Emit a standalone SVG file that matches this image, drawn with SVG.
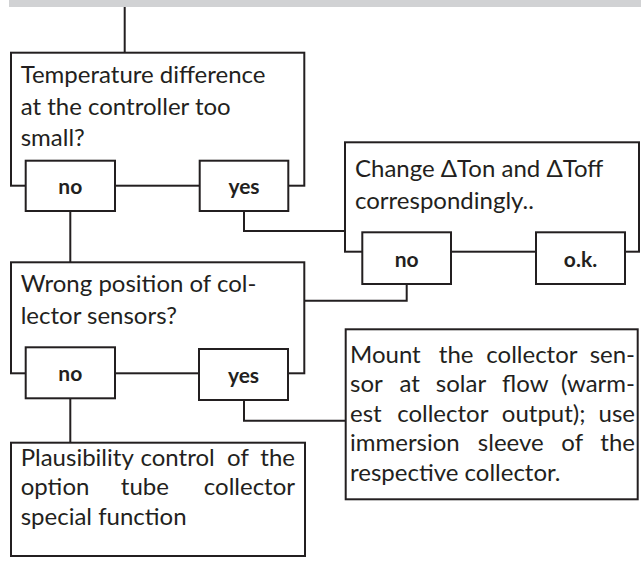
<svg xmlns="http://www.w3.org/2000/svg" width="644" height="561" viewBox="0 0 644 561">
<style>
.box{fill:#ffffff;stroke:#231f20;stroke-width:2}
.ln{fill:none;stroke:#231f20;stroke-width:2}
.t{font-family:Lato,"Liberation Sans",sans-serif;font-size:24px;fill:#231f20}
.l{font-family:Lato,"Liberation Sans",sans-serif;font-size:21px;font-weight:bold;fill:#231f20;text-anchor:middle}
.m{text-anchor:middle}
.e{text-anchor:end}
</style>
<rect x="9" y="0" width="632" height="7" fill="#d1d2d4"/>
<g id="connectors">
<path class="ln" d="M124.7,7 V52.7"/>
<path class="ln" d="M70.3,211 V262.3"/>
<path class="ln" d="M244,211 V231 H345"/>
<path class="ln" d="M406.7,284 V300.7 H304.3"/>
<path class="ln" d="M70.3,398.3 V442.7"/>
<path class="ln" d="M244,400 V420.7 H345.7"/>
</g>
<g id="q1">
<rect class="box" x="11" y="52.7" width="293.3" height="133"/>
<text class="t" x="20.7" y="83">Temperature difference</text>
<text class="t" x="20.7" y="114.5">at the controller too</text>
<text class="t" x="20.7" y="146">small?</text>
</g>
<g id="q1-no">
<rect class="box" x="25.7" y="160.7" width="89.3" height="50.3"/>
<text class="l" x="70.3" y="193.5">no</text>
</g>
<g id="q1-yes">
<rect class="box" x="199.7" y="160.7" width="88.6" height="50.3"/>
<text class="l" x="244" y="193.5">yes</text>
</g>
<g id="a1">
<rect class="box" x="345" y="142.3" width="294" height="109.4"/>
<text class="t" x="355" y="177.3">Change ΔTon and ΔToff</text>
<text class="t" x="355" y="209.3">correspondingly..</text>
</g>
<g id="a1-no">
<rect class="box" x="362.3" y="232.3" width="88.7" height="51.7"/>
<text class="l" x="406.7" y="266.5">no</text>
</g>
<g id="a1-ok">
<rect class="box" x="536" y="232.3" width="89" height="51.7"/>
<text class="l" x="580.5" y="266.5">o.k.</text>
</g>
<g id="q2">
<rect class="box" x="11" y="262.3" width="293.3" height="111"/>
<text class="t" x="20.7" y="291.7">Wrong position of col-</text>
<text class="t" x="20.7" y="324">lector sensors?</text>
</g>
<g id="q2-no">
<rect class="box" x="25.7" y="347.3" width="89.3" height="51"/>
<text class="l" x="70.3" y="381">no</text>
</g>
<g id="q2-yes">
<rect class="box" x="199" y="349" width="89" height="51"/>
<text class="l" x="243.5" y="383">yes</text>
</g>
<g id="a2">
<rect class="box" x="345.7" y="329.3" width="292" height="170"/>
<text class="t" y="362.7"><tspan x="350">Mount</tspan><tspan class="m" x="456.2">the</tspan><tspan class="m" x="531.9">collector</tspan><tspan class="e" x="635">sen-</tspan></text>
<text class="t" y="392.2"><tspan x="350">sor</tspan><tspan class="m" x="409.8">at</tspan><tspan class="m" x="461">solar</tspan><tspan class="m" x="525.3">flow</tspan><tspan class="e" x="635">(warm-</tspan></text>
<text class="t" y="421.7"><tspan x="350">est</tspan><tspan class="m" x="442.8">collector</tspan><tspan class="m" x="543.7">output);</tspan><tspan class="e" x="635">use</tspan></text>
<text class="t" y="451.2"><tspan x="350">immersion</tspan><tspan class="m" x="510.8">sleeve</tspan><tspan class="m" x="572.2">of</tspan><tspan class="e" x="635">the</tspan></text>
<text class="t" x="350" y="480.7">respective collector.</text>
</g>
<g id="a3">
<rect class="box" x="11" y="442.7" width="294" height="113.3"/>
<text class="t" y="465.5"><tspan x="20.7">Plausibility</tspan><tspan class="m" x="177.6">control</tspan><tspan class="m" x="238">of</tspan><tspan class="e" x="295">the</tspan></text>
<text class="t" y="495.2"><tspan x="20.7">option</tspan><tspan class="m" x="144.9">tube</tspan><tspan class="e" x="295">collector</tspan></text>
<text class="t" x="20.7" y="525">special function</text>
</g>
</svg>
